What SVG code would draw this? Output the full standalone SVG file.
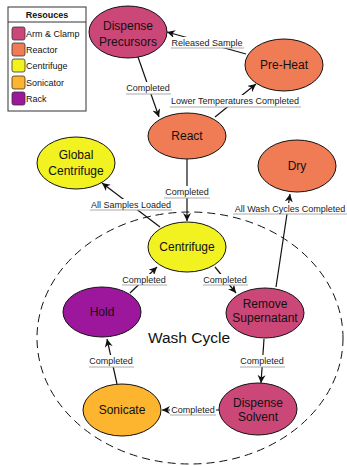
<svg xmlns="http://www.w3.org/2000/svg" width="347" height="466" viewBox="0 0 347 466">
<style>
text{font-family:"Liberation Sans",Arial,sans-serif;fill:#111}
.n ellipse{stroke:#111;stroke-width:1}
.n text{font-size:12px;text-anchor:middle}
.arm{fill:#cb4778}
.rea{fill:#ef7c55}
.cen{fill:#f2f221}
.son{fill:#fdb42f}
.rack{fill:#9c179c}
.e line{stroke:#111;stroke-width:1.2;marker-end:url(#ah)}
.lb rect{fill:#fff}
.lb line{stroke:#aaa;stroke-width:1}
.lb text{font-size:9px;text-anchor:middle;fill:#222}
.lg rect.sw{stroke:#333;stroke-width:0.8}
.lg text{font-size:9px}
</style>
<defs>
<marker id="ah" viewBox="0 0 10 10" refX="10" refY="5" markerWidth="8" markerHeight="8" markerUnits="userSpaceOnUse" orient="auto">
<path d="M0,0 L10,5 L0,10 L3,5 z" fill="#111"/>
</marker>
</defs>
<rect width="347" height="466" fill="#fff"/>
<g id="wash-cycle">
<ellipse cx="190" cy="338" rx="153" ry="126" fill="none" stroke="#111" stroke-width="1" stroke-dasharray="8,5"/>
<text x="189" y="343" font-size="15.5" text-anchor="middle">Wash Cycle</text>
</g>
<g id="legend" class="lg">
<rect x="8" y="7" width="78" height="104" fill="#fff" stroke="#333" stroke-width="1"/>
<line x1="8" y1="22" x2="86" y2="22" stroke="#333" stroke-width="1"/>
<text x="47" y="18" text-anchor="middle" font-weight="bold">Resouces</text>
<rect class="sw arm" x="12" y="27" width="13" height="13" rx="2"/>
<text x="26" y="37">Arm &amp; Clamp</text>
<rect class="sw rea" x="12" y="43" width="13" height="13" rx="2"/>
<text x="26" y="53">Reactor</text>
<rect class="sw cen" x="12" y="59" width="13" height="13" rx="2"/>
<text x="26" y="69">Centrifuge</text>
<rect class="sw son" x="12" y="76" width="13" height="13" rx="2"/>
<text x="26" y="86">Sonicator</text>
<rect class="sw rack" x="12" y="92" width="13" height="13" rx="2"/>
<text x="26" y="102">Rack</text>
</g>
<g id="connectors" class="e">
<line x1="246" y1="54" x2="167" y2="32"/>
<line x1="138" y1="57" x2="159" y2="117"/>
<line x1="215" y1="117" x2="256" y2="84"/>
<line x1="187" y1="159" x2="187" y2="221"/>
<line x1="160" y1="227" x2="102" y2="183"/>
<line x1="276" y1="287" x2="290" y2="194"/>
<line x1="215" y1="267" x2="236" y2="293"/>
<line x1="130" y1="293" x2="157" y2="267"/>
<line x1="117" y1="384" x2="107" y2="339"/>
<line x1="264" y1="339" x2="261" y2="383"/>
<line x1="219" y1="410" x2="162" y2="410"/>
</g>
<g id="labels" class="lb">
<g><rect x="171" y="37" width="73" height="11"/><line x1="171" y1="48" x2="244" y2="48"/><text x="207" y="46">Released Sample</text></g>
<g><rect x="126" y="82" width="45" height="12"/><line x1="126" y1="94" x2="171" y2="94"/><text x="148" y="91">Completed</text></g>
<g><rect x="170" y="95" width="131" height="12"/><line x1="170" y1="107" x2="301" y2="107"/><text x="235" y="104">Lower Temperatures Completed</text></g>
<g><rect x="164" y="186" width="46" height="12"/><line x1="164" y1="198" x2="210" y2="198"/><text x="187" y="195">Completed</text></g>
<g><rect x="90" y="199" width="82" height="11"/><line x1="90" y1="210" x2="172" y2="210"/><text x="131" y="208">All Samples Loaded</text></g>
<g><rect x="233" y="203" width="114" height="11"/><line x1="233" y1="214" x2="347" y2="214"/><text x="290" y="212">All Wash Cycles Completed</text></g>
<g><rect x="203" y="274" width="45" height="11"/><line x1="203" y1="285" x2="248" y2="285"/><text x="225" y="283">Completed</text></g>
<g><rect x="122" y="274" width="45" height="11"/><line x1="122" y1="285" x2="167" y2="285"/><text x="144" y="283">Completed</text></g>
<g><rect x="89" y="355" width="45" height="12"/><line x1="89" y1="367" x2="134" y2="367"/><text x="111" y="364">Completed</text></g>
<g><rect x="240" y="355" width="45" height="12"/><line x1="240" y1="367" x2="285" y2="367"/><text x="262" y="364">Completed</text></g>
<g><rect x="170" y="404" width="46" height="11"/><line x1="170" y1="415" x2="216" y2="415"/><text x="193" y="413">Completed</text></g>
</g>
<g id="dispense-precursors" class="n"><ellipse class="arm" cx="128" cy="32" rx="39" ry="26"/><text x="128" y="29.5">Dispense</text><text x="128" y="45.5">Precursors</text></g>
<g id="pre-heat" class="n"><ellipse class="rea" cx="284" cy="65" rx="39" ry="26"/><text x="284" y="69">Pre-Heat</text></g>
<g id="react" class="n"><ellipse class="rea" cx="187" cy="136" rx="39" ry="23"/><text x="187" y="140">React</text></g>
<g id="global-centrifuge" class="n"><ellipse class="cen" cx="76" cy="163" rx="39" ry="26"/><text x="76" y="159">Global</text><text x="76" y="175">Centrifuge</text></g>
<g id="dry" class="n"><ellipse class="rea" cx="297" cy="166" rx="39" ry="26"/><text x="297" y="170">Dry</text></g>
<g id="centrifuge" class="n"><ellipse class="cen" cx="187" cy="247" rx="39" ry="25"/><text x="187" y="251">Centrifuge</text></g>
<g id="hold" class="n"><ellipse class="rack" cx="102" cy="312" rx="39" ry="25"/><text x="102" y="316">Hold</text></g>
<g id="remove-supernatant" class="n"><ellipse class="arm" cx="265" cy="313" rx="39" ry="25"/><text x="265" y="308">Remove</text><text x="265" y="322">Supernatant</text></g>
<g id="sonicate" class="n"><ellipse class="son" cx="122" cy="410" rx="39" ry="26"/><text x="122" y="414">Sonicate</text></g>
<g id="dispense-solvent" class="n"><ellipse class="arm" cx="258" cy="409" rx="39" ry="26"/><text x="258" y="407">Dispense</text><text x="258" y="421">Solvent</text></g>
</svg>
